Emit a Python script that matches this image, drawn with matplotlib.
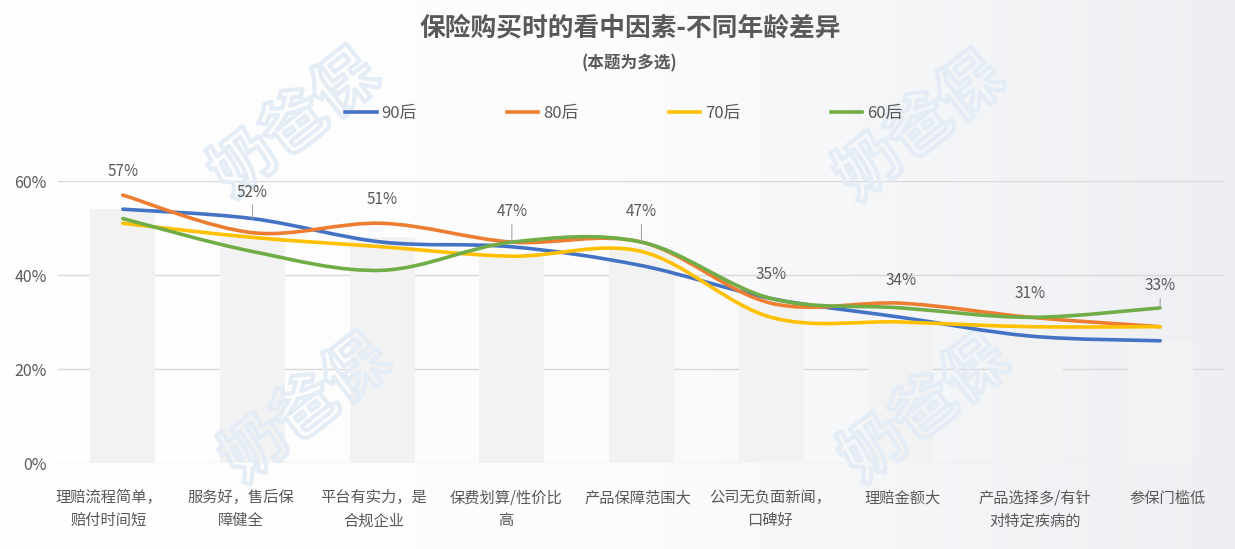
import numpy as np
import matplotlib
matplotlib.use("Agg")
import matplotlib.pyplot as plt
from matplotlib.path import Path
from matplotlib.patches import PathPatch
from matplotlib.lines import Line2D
from matplotlib.colors import LinearSegmentedColormap
from matplotlib.transforms import ScaledTranslation
import matplotlib.patheffects as pe

plt.rcParams['font.family'] = ['Noto Sans CJK SC', 'DejaVu Sans']

# data (percent)
categories = ["理赔流程简单，\n赔付时间短", "服务好，售后保\n障健全", "平台有实力，是\n合规企业",
              "保费划算/性价比\n高", "产品保障范围大", "公司无负面新闻，\n口碑好",
              "理赔金额大", "产品选择多/有针\n对特定疾病的", "参保门槛低"]
s90 = [54, 52, 47, 46, 42, 35, 31, 27, 26]
s80 = [57, 49, 51, 47, 47, 34, 34, 31, 29]
s70 = [51, 48, 46, 44, 45, 31, 30, 29, 29]
s60 = [52, 45, 41, 47, 47, 35, 33, 31, 33]
overall = [54, 48, 48, 44, 46, 34, 30, 27, 26]
series_names = ["90后", "80后", "70后", "60后"]
colors = ["#4472C4", "#ED7D31", "#FFC000", "#70AD47"]

# label offsets (points above the top point) and leader line flags
label_offsets = [17, 19, 17, 22, 22, 17, 16, 17, 16]
leaders = [False, True, False, True, True, False, False, False, True]

text_c = "#595959"

fig = plt.figure(figsize=(12.35, 5.49), dpi=100)

# background gradient
bg = fig.add_axes([0, 0, 1, 1], zorder=-10)
grad = np.linspace(0, 1, 256).reshape(1, -1)
cmap = LinearSegmentedColormap.from_list("bg", ["#ffffff", "#fcfcfd", "#edeff2"])
bg.imshow(grad, aspect="auto", cmap=cmap, extent=[0, 1, 0, 1])
bg.set_xlim(0, 1)
bg.set_ylim(0, 1)
bg.axis("off")

ax = fig.add_axes([58 / 1235, 1 - 463 / 549, (1225 - 58) / 1235, (463 - 181) / 549])
ax.patch.set_alpha(0)

x = np.arange(len(categories))
ax.bar(x, [v / 100 for v in overall], width=0.5, color="#f2f2f2", zorder=1)


def smooth_path(xs, ys):
    pts = np.column_stack([xs, ys])
    n = len(pts)
    verts = [pts[0]]
    codes = [Path.MOVETO]
    for i in range(n - 1):
        p0 = pts[max(i - 1, 0)]
        p1 = pts[i]
        p2 = pts[i + 1]
        p3 = pts[min(i + 2, n - 1)]
        c1 = p1 + (p2 - p0) / 6
        c2 = p2 - (p3 - p1) / 6
        verts += [c1, c2, p2]
        codes += [Path.CURVE4] * 3
    return Path(verts, codes)


all_series = [s90, s80, s70, s60]
handles = []
for s, c, name in zip(all_series, colors, series_names):
    p = smooth_path(x, [v / 100 for v in s])
    ax.add_patch(PathPatch(p, fill=False, edgecolor=c, lw=2.6, zorder=3, capstyle="round"))
    handles.append(Line2D([0], [0], color=c, lw=2.6, label=name))

# value labels for the top point of each category
tops = np.max(np.array(all_series), axis=0)
for i, t in enumerate(tops):
    arrow = dict(arrowstyle="-", color="#a6a6a6", lw=0.8, shrinkA=1, shrinkB=0) if leaders[i] else None
    ax.annotate(f"{t}%", xy=(i, t / 100), xytext=(0, label_offsets[i]), textcoords="offset points",
                ha="center", va="center", fontsize=11, color=text_c, arrowprops=arrow,
                annotation_clip=False, zorder=5)

ax.set_xlim(-0.5, len(categories) - 0.5)
ax.set_ylim(0, 0.6)
ax.set_yticks([0, 0.2, 0.4, 0.6])
ax.set_yticklabels(["0%", "20%", "40%", "60%"], fontsize=11.5, color=text_c)
ax.set_xticks(x)
ax.set_xticklabels(categories, fontsize=11, color=text_c, linespacing=1.45)
ax.tick_params(axis="both", length=0)
ax.tick_params(axis="x", pad=19)
ax.tick_params(axis="y", pad=8)
ax.grid(axis="y", color="#d9d9d9", lw=1, zorder=0)
ax.set_axisbelow(True)
for sp in ax.spines.values():
    sp.set_visible(False)

# category labels sit a little left of the bars, like the original layout
for i, lab in enumerate(ax.get_xticklabels()):
    dx = (-14 + 2.65 * i) / 100
    lab.set_transform(lab.get_transform() + ScaledTranslation(dx, 0, fig.dpi_scale_trans))

# watermarks (outline only), between the bars and the lines
for wx, wy in [(295, 125), (920, 128), (306, 410), (925, 410)]:
    ax.text(wx / 1235, 1 - wy / 549, "奶爸保", transform=fig.transFigure, fontsize=46, rotation=38,
            ha="center", va="center", color=(1, 1, 1, 0), fontweight="bold", zorder=2, clip_on=False,
            path_effects=[pe.Stroke(linewidth=3, foreground="#e4ecf6")])

fig.text(0.51, 1 - 28 / 549, "保险购买时的看中因素-不同年龄差异", ha="center", va="center",
         fontsize=18.5, fontweight="bold", color=text_c)
fig.text(0.51, 1 - 63 / 549, "(本题为多选)", ha="center", va="center",
         fontsize=12, fontweight="bold", color=text_c)
fig.legend(handles=handles, loc="center", bbox_to_anchor=(0.505, 1 - 113 / 549), ncol=4,
           frameon=False, fontsize=12, handlelength=1.9, handletextpad=0.3, columnspacing=5.4,
           labelcolor=text_c)

fig.savefig("out.png", dpi=100)
